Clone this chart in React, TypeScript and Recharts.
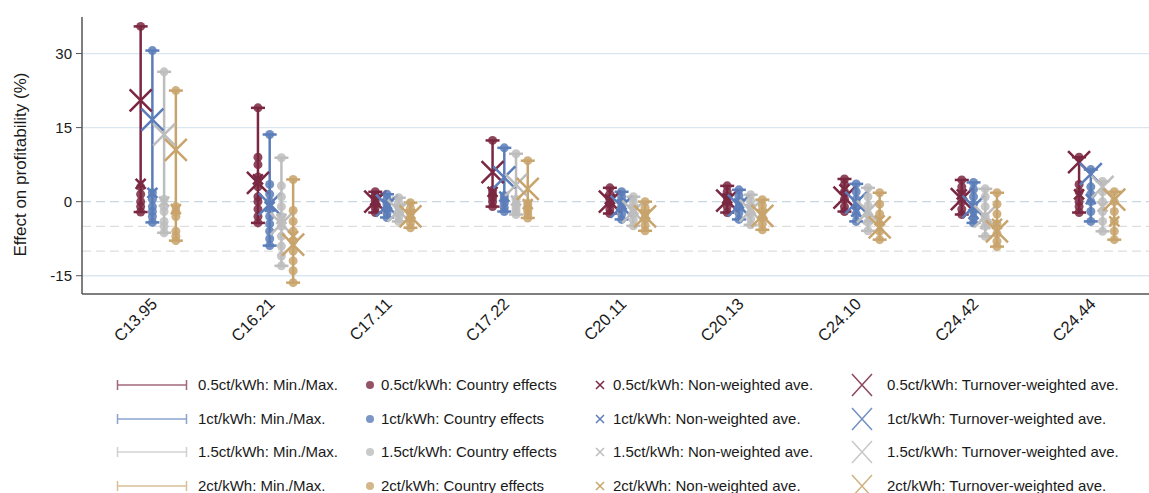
import React from "react";
import { ErrorBar, ReferenceLine, Scatter, ScatterChart, XAxis, YAxis } from "recharts";

const categories = ["C13.95", "C16.21", "C17.11", "C17.22", "C20.11", "C20.13", "C24.10", "C24.42", "C24.44"];
const rates = ["0.5ct/kWh", "1ct/kWh", "1.5ct/kWh", "2ct/kWh"];
const colors = ["#7a2741", "#5b7db9", "#bdbdbd", "#c8a46c"];
const offsets = [-0.15, -0.05, 0.05, 0.15];

// min / max of country effects
const min05 = [-2.1, -4.3, -2.2, -1.0, -2.4, -2.2, -2.0, -2.6, -2.2];
const max05 = [35.5, 19.0, 2.0, 12.4, 2.8, 3.2, 4.6, 4.4, 9.0];
const min10 = [-4.2, -8.9, -3.2, -2.0, -3.6, -3.6, -4.0, -4.3, -4.0];
const max10 = [30.6, 13.6, 1.5, 10.9, 2.0, 2.4, 3.6, 3.9, 6.5];
const min15 = [-6.3, -13.0, -4.0, -2.6, -4.9, -4.7, -5.9, -7.0, -6.0];
const max15 = [26.3, 8.9, 0.8, 9.7, 1.0, 1.4, 2.8, 2.6, 4.1];
const min20 = [-7.9, -16.4, -5.3, -3.3, -5.9, -5.7, -7.7, -9.1, -7.7];
const max20 = [22.5, 4.5, -0.2, 8.3, 0.0, 0.4, 1.8, 1.8, 2.0];

// turnover-weighted averages
const tw05 = [20.5, 3.8, 0.0, 6.0, 0.0, 0.2, 0.8, 0.5, 8.0];
const tw10 = [16.6, -0.5, -0.8, 4.9, -1.0, -0.8, -0.2, -1.0, 5.6];
const tw15 = [13.6, -4.5, -1.8, 3.4, -2.0, -1.8, -2.0, -3.0, 3.0];
const tw20 = [10.5, -8.7, -3.0, 2.6, -3.0, -2.9, -5.2, -6.0, 0.4];

// non-weighted averages
const nw05 = [3.6, 4.5, 0.3, 2.0, 0.5, 0.6, 2.5, 1.5, 1.5];
const nw10 = [1.8, -1.0, -0.5, 1.0, -0.6, -0.4, -2.0, -2.5, 0.5];
const nw15 = [0.0, -3.5, -1.4, 0.2, -1.6, -1.5, -3.5, -4.5, -1.0];
const nw20 = [-1.5, -7.0, -2.5, -0.5, -2.6, -2.5, -3.8, -4.5, -4.0];

// country effects
const ce05 = [
  [35.5, 3.0, 1.5, 0, -1, -2.1],
  [19, 9, 7.5, 5, 3, 1, 0, -1.5, -3, -4.3],
  [2.0, 1.2, 0.3, -0.5, -1.2, -2.2],
  [12.4, 2.3, 1.5, 0.8, 0, -1.0],
  [2.8, 1.5, 0.5, -0.5, -1.5, -2.4],
  [3.2, 2, 1, 0, -1, -2.2],
  [4.6, 3.5, 2, 0.5, -1, -2.0],
  [4.4, 3, 1.5, 0, -1.5, -2.6],
  [9.0, 3.5, 2.0, 0, -1, -2.2],
];
const ce10 = [
  [30.6, 1.8, 0.5, -1, -2, -3, -4.2],
  [13.6, 3.5, 1.5, 0, -1.5, -3, -4.5, -6, -7.5, -8.9],
  [1.5, 0.5, -0.5, -1.5, -2.3, -3.2],
  [10.9, 1.2, 0.5, -0.3, -1.2, -2.0],
  [2, 1, 0, -1, -2.5, -3.6],
  [2.4, 1.2, 0, -1, -2.3, -3.6],
  [3.6, 2, 0.5, -1, -2.5, -4],
  [3.9, 2.5, 1, -0.5, -2, -3.3, -4.3],
  [6.5, 3, 1.5, 0, -2, -4],
];
const ce15 = [
  [26.3, 0.5, -1, -2, -4, -5, -6.3],
  [8.9, 3.2, 1, -1, -3, -5, -7, -9, -11, -13],
  [0.8, -0.2, -1.2, -2.2, -3.1, -4.0],
  [9.7, 0.5, -0.5, -1.3, -2, -2.6],
  [1, 0, -1.3, -2.5, -3.7, -4.9],
  [1.4, 0.2, -1, -2.3, -3.5, -4.7],
  [2.8, 1, -0.8, -2.5, -4.2, -5.9],
  [2.6, 1, -1, -3, -5, -7],
  [4.1, 2, 0, -2, -4, -6],
];
const ce20 = [
  [22.5, -1, -2, -3, -6, -7, -7.9],
  [4.5, -1.8, -4, -6, -8, -10, -12, -14, -16.4],
  [-0.2, -1.3, -2.3, -3.3, -4.3, -5.3],
  [8.3, -0.3, -1, -1.8, -2.5, -3.3],
  [0, -1.2, -2.4, -3.6, -4.8, -5.9],
  [0.4, -0.8, -2, -3.2, -4.5, -5.7],
  [1.8, -0.5, -2.5, -4.5, -6, -7.7],
  [1.8, -0.5, -2.5, -4.5, -6.5, -8, -9.1],
  [2, 0, -2, -4, -6, -7.7],
];

const yTicks = [-15, 0, 15, 30];
const xTicks = [1, 2, 3, 4, 5, 6, 7, 8, 9];

const mins = [min05, min10, min15, min20];
const maxs = [max05, max10, max15, max20];
const tws = [tw05, tw10, tw15, tw20];
const nws = [nw05, nw10, nw15, nw20];
const ces = [ce05, ce10, ce15, ce20];

const FONT = "'Liberation Sans', Arial, sans-serif";

const cross = (color: string, half: number, sw: number) => (props: any) => {
  const { cx, cy } = props;
  return (
    <path
      d={`M${cx - half},${cy - half}L${cx + half},${cy + half}M${cx + half},${cy - half}L${cx - half},${cy + half}`}
      stroke={color}
      strokeWidth={sw}
      fill="none"
    />
  );
};

const dot = (color: string) => (props: any) => (
  <circle cx={props.cx} cy={props.cy} r={4.5} fill={color} fillOpacity={0.85} />
);

function XTick(props: any) {
  const { x, y, payload } = props;
  return (
    <g transform={`translate(${x - 4},${y + 7})`}>
      <text x={0} y={0} dy="0.35em" textAnchor="end" transform="rotate(-45)" fontSize={16.5} fontFamily={FONT} fill="#1a1a1a">
        {categories[payload.value - 1]}
      </text>
    </g>
  );
}

function Legend() {
  const rowY = [385, 419, 452, 486];
  return (
    <svg width={1149} height={493} style={{ position: "absolute", left: 0, top: 0 }}>
      {rates.map((r, i) => {
        const y = rowY[i];
        const c = colors[i];
        return (
          <g key={r} fontFamily={FONT} fontSize={15} fill="#1a1a1a">
            <path d={`M117,${y}H187M117.5,${y - 5}V${y + 5}M186.5,${y - 5}V${y + 5}`} stroke={c} strokeOpacity={0.7} strokeWidth={1.5} />
            <text x={198} y={y} dy="0.35em">{`${r}: Min./Max.`}</text>
            <circle cx={370} cy={y} r={4} fill={c} fillOpacity={0.8} />
            <text x={381} y={y} dy="0.35em">{`${r}: Country effects`}</text>
            <path d={`M596,${y - 4}L604,${y + 4}M604,${y - 4}L596,${y + 4}`} stroke={c} strokeWidth={1.5} />
            <text x={613} y={y} dy="0.35em">{`${r}: Non-weighted ave.`}</text>
            <path d={`M852,${y - 11}L872,${y + 11}M872,${y - 11}L852,${y + 11}`} stroke={c} strokeOpacity={0.85} strokeWidth={1.5} />
            <text x={887} y={y} dy="0.35em">{`${r}: Turnover-weighted ave.`}</text>
          </g>
        );
      })}
    </svg>
  );
}

export default function App() {
  const series = rates.map((r, s) => {
    const xs = categories.map((_, i) => i + 1 + offsets[s]);
    return {
      rate: r,
      color: colors[s],
      range: xs.map((x, i) => ({
        x,
        y: (mins[s][i] + maxs[s][i]) / 2,
        err: (maxs[s][i] - mins[s][i]) / 2,
      })),
      countries: xs.flatMap((x, i) => ces[s][i].map((v) => ({ x, y: v }))),
      nw: xs.map((x, i) => ({ x, y: nws[s][i] })),
      tw: xs.map((x, i) => ({ x, y: tws[s][i] })),
    };
  });

  return (
    <div style={{ position: "absolute", left: 0, top: 0, width: 1149, height: 493, background: "#fff" }}>
      <ScatterChart width={1149} height={360} margin={{ top: 17, right: 0, bottom: 0, left: 0 }}>
        <XAxis
          type="number"
          dataKey="x"
          domain={[0.35, 9.446]}
          ticks={xTicks}
          tickSize={0}
          tickMargin={0}
          tickLine={false}
          height={66}
          axisLine={{ stroke: "#555", strokeWidth: 1.5 }}
          tick={<XTick />}
          allowDataOverflow
        />
        <YAxis
          type="number"
          dataKey="y"
          domain={[-18.7, 37.4]}
          ticks={yTicks}
          width={82}
          allowDataOverflow
          tickSize={6}
          tickMargin={4}
          tickLine={{ stroke: "#555" }}
          axisLine={{ stroke: "#555", strokeWidth: 1.5 }}
          tick={{ fontSize: 15, fill: "#1a1a1a", fontFamily: FONT }}
          label={{
            value: "Effect on profitability (%)",
            angle: -90,
            position: "center",
            dx: -21,
            dy: 9,
            style: { fontSize: 17, fill: "#1a1a1a", fontFamily: FONT },
          }}
        />
        <ReferenceLine y={30} stroke="#dbe7f0" strokeWidth={1.3} />
        <ReferenceLine y={15} stroke="#dbe7f0" strokeWidth={1.3} />
        <ReferenceLine y={-15} stroke="#dbe7f0" strokeWidth={1.3} />
        <ReferenceLine y={0} stroke="#c8d7e4" strokeWidth={1.3} strokeDasharray="9 5" />
        <ReferenceLine y={-5} stroke="#dedede" strokeWidth={1.3} strokeDasharray="9 5" />
        <ReferenceLine y={-10} stroke="#dedede" strokeWidth={1.3} strokeDasharray="9 5" />
        {series.flatMap((s) => [
          <Scatter key={`r${s.rate}`} data={s.range} shape={() => <g />} isAnimationActive={false}>
            <ErrorBar dataKey="err" direction="y" width={7} stroke={s.color} strokeWidth={2.5} isAnimationActive={false} />
          </Scatter>,
          <Scatter key={`c${s.rate}`} data={s.countries} shape={dot(s.color)} isAnimationActive={false} />,
          <Scatter key={`n${s.rate}`} data={s.nw} shape={cross(s.color, 5, 2.5)} isAnimationActive={false} />,
          <Scatter key={`t${s.rate}`} data={s.tw} shape={cross(s.color, 11, 2.5)} isAnimationActive={false} />,
        ])}
      </ScatterChart>
      <Legend />
    </div>
  );
}
